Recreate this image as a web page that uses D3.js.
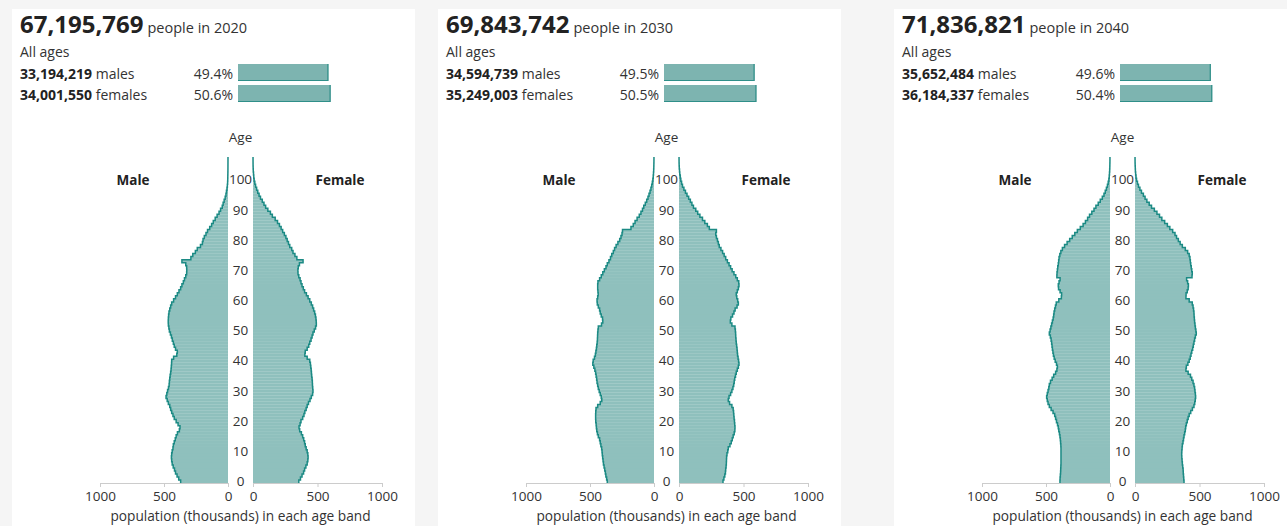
<!DOCTYPE html>
<html><head><meta charset="utf-8">
<script src="https://cdn.jsdelivr.net/npm/d3@7"></script>
<style>
body{margin:0;background:#f5f5f5;}
svg{display:block;font-family:"Open Sans",sans-serif;}
</style>
</head><body>
<svg id="c" width="1287" height="526"></svg>
<script>
const years=[2020,2030,2040];
const totals=[67195769,69843742,71836821];
const maleTotals=[33194219,34594739,35652484];
const femaleTotals=[34001550,35249003,36184337];
const malePct=[49.4,49.5,49.6];
const femalePct=[50.6,50.5,50.4];
const ageTicks=[0,10,20,30,40,50,60,70,80,90,100];
const popTicks=[0,500,1000];
const ages=d3.range(0,108);

const male2020=[370,385,398,410,418,428,436,440,442,440,436,430,427,420,412,405,395,380,375,390,405,420,430,440,448,455,466,475,484,478,472,465,460,458,455,452,448,445,443,441,440,425,400,396,410,420,427,435,442,450,458,462,466,467,466,464,461,455,448,440,425,410,396,383,370,360,349,340,330,323,322,323,330,360,290,275,255,240,215,200,195,185,172,160,143,128,115,100,85,70,58,45,38,30,22,16,12,8,5,3,2,1.5,1,0.6,0.4,0.3,0.2,0.1];
const female2020=[355,368,380,392,400,410,420,425,427,425,420,412,405,400,393,385,375,362,357,365,372,385,395,402,412,420,430,442,452,462,465,463,461,460,458,455,453,451,448,445,440,420,402,405,420,432,440,450,458,465,475,485,491,490,488,484,478,470,462,452,440,427,414,400,390,380,372,365,355,349,348,351,360,388,340,325,310,300,285,275,265,255,243,230,218,205,190,172,150,135,115,98,85,72,58,47,37,28,20,14,9,6,4,2,1,0.5,0.3,0.2];
const male2030=[365,370,376,380,385,390,395,398,401,404,406,409,415,420,425,435,442,447,450,452,455,456,456,455,453,440,420,408,412,420,428,435,440,445,448,452,456,462,470,478,475,465,458,454,450,447,444,442,441,440,438,435,410,400,402,412,420,425,435,443,445,440,436,438,440,440,438,425,412,400,388,375,365,352,340,330,318,308,296,282,268,258,250,246,180,162,148,132,115,102,90,80,68,57,47,39,31,24,18,13,9,6,4,2.5,1.5,1,0.5,0.3];
const female2030=[341,348,355,360,362,365,367,368,369,372,378,382,395,405,413,420,428,433,434,432,430,427,425,423,420,410,392,382,388,400,410,418,424,428,432,438,444,452,460,465,462,458,454,452,450,447,444,442,440,439,437,434,410,398,402,415,426,435,450,460,455,448,444,452,460,465,463,452,440,426,412,400,388,375,362,350,338,325,312,305,298,290,285,290,235,220,200,182,162,145,130,112,100,88,75,62,50,38,27,20,14,10,6,4,2,1,0.5,0.3];
const male2040=[391,390,388,386,385,384,383,383,383,383,383,383,384,386,388,391,395,400,404,410,418,425,432,445,460,474,484,490,495,490,484,478,474,465,452,440,425,415,411,418,428,436,442,446,450,453,456,460,466,474,468,462,456,450,444,440,437,432,426,420,400,380,378,390,402,404,398,390,415,414,411,408,404,401,398,392,384,372,355,335,315,295,275,255,232,210,192,175,160,142,125,110,92,76,60,47,37,28,20,14,9,6,4,2.5,1.5,1,0.5,0.3];
const female2040=[380,378,376,374,373,370,367,365,363,362,363,365,367,372,376,380,385,390,393,398,405,412,420,432,445,457,463,467,470,468,465,462,457,450,440,430,412,395,398,410,420,428,434,440,447,452,457,462,468,475,472,468,465,462,460,458,457,454,450,444,420,395,396,405,412,414,408,400,442,444,440,436,432,429,426,420,408,390,367,350,336,322,310,292,270,251,230,208,190,170,150,128,110,92,78,65,50,38,27,19,12,8,5,3,2,1,0.5,0.3];

const maleSeries=[male2020,male2030,male2040];
const femaleSeries=[female2020,female2030,female2040];

const panelX=[12,438,894];
const fillC="#8fc0bd", lineC="#1b8a84", textC="#333";
const fmt=d3.format(",");
const svg=d3.select("#c");

const y=d3.scaleLinear().domain([-1,107]).range([483,157]);
const xM=d3.scaleLinear().domain([0,1000]).range([216,88]);
const xF=d3.scaleLinear().domain([0,1000]).range([241,370]);
const xBar=d3.scaleLinear().domain([0,100]).range([0,183]);

years.forEach((yr,i)=>{
  const g=svg.append("g").attr("transform",`translate(${panelX[i]},0)`);
  g.append("rect").attr("x",0).attr("y",9).attr("width",403).attr("height",517).attr("fill","#fff");

  // header
  const t=g.append("text").attr("x",8).attr("y",33).attr("fill","#222");
  t.append("tspan").attr("font-size",24).attr("font-weight",700).text(fmt(totals[i]));
  t.append("tspan").attr("font-size",14.5).attr("fill",textC).attr("dx",4).text(`people in ${yr}`);
  g.append("text").attr("x",8).attr("y",57).attr("font-size",14).attr("fill",textC).text("All ages");

  const rows=[{n:maleTotals[i],lab:" males",p:malePct[i],yy:79},{n:femaleTotals[i],lab:" females",p:femalePct[i],yy:100}];
  rows.forEach(r=>{
    const tt=g.append("text").attr("x",8).attr("y",r.yy).attr("font-size",14).attr("fill",textC);
    tt.append("tspan").attr("font-weight",700).attr("fill","#222").text(fmt(r.n));
    tt.append("tspan").text(r.lab);
    g.append("text").attr("x",221).attr("y",r.yy).attr("text-anchor","end").attr("font-size",14).attr("fill",textC).text(r.p.toFixed(1)+"%");
    const by=r.yy-15, bw=xBar(r.p);
    g.append("rect").attr("x",226).attr("y",by).attr("width",bw).attr("height",17).attr("fill","#7db4b0");
    g.append("path").attr("d",`M226,${by+16.5}H${226+bw-0.5}V${by}`).attr("fill","none").attr("stroke","#2f8f89").attr("stroke-width",1.2);
  });

  // bars
  const drawSide=(data,xs)=>{
    g.append("g").selectAll("rect").data(ages).join("rect")
      .attr("x",a=>Math.min(xs(0),xs(data[a])))
      .attr("width",a=>Math.abs(xs(data[a])-xs(0)))
      .attr("y",a=>y(a))
      .attr("height",a=>y(a-1)-y(a)+0.2)
      .attr("fill",fillC);
    const pts=[];
    ages.forEach(a=>{pts.push([xs(data[a]),y(a-1)]);pts.push([xs(data[a]),y(a)]);});
    g.append("path").attr("d",d3.line()(pts)).attr("fill","none").attr("stroke",lineC).attr("stroke-width",1.5);
  };
  drawSide(maleSeries[i],xM);
  drawSide(femaleSeries[i],xF);

  // axes
  const mk=s=>d3.axisBottom(s).tickValues(popTicks).tickFormat(d3.format("d")).tickSize(4).tickPadding(4).tickSizeOuter(0);
  const axM=g.append("g").attr("transform","translate(0,483)").call(mk(xM));
  const axF=g.append("g").attr("transform","translate(0,483)").call(mk(xF));
  [axM,axF].forEach(ax=>{
    ax.select(".domain").attr("stroke","#ccc");
    ax.selectAll(".tick line").attr("stroke","#ccc");
    ax.selectAll(".tick text").attr("font-size",13.5).attr("fill",textC).attr("font-family","Open Sans");
  });
  g.append("text").attr("x",228.5).attr("y",521).attr("text-anchor","middle").attr("font-size",13.7).attr("fill",textC).text("population (thousands) in each age band");

  // age labels
  g.append("g").selectAll("text").data(ageTicks).join("text")
    .attr("x",228.5).attr("y",a=>y(a-0.5)).attr("dy","0.35em").attr("text-anchor","middle")
    .attr("font-size",13.5).attr("fill",textC).text(a=>a);
  g.append("text").attr("x",228.5).attr("y",142).attr("text-anchor","middle").attr("font-size",13.5).attr("fill",textC).text("Age");
  g.append("text").attr("x",121).attr("y",185).attr("text-anchor","middle").attr("font-size",13.5).attr("font-weight",700).attr("fill","#222").text("Male");
  g.append("text").attr("x",328).attr("y",185).attr("text-anchor","middle").attr("font-size",13.5).attr("font-weight",700).attr("fill","#222").text("Female");
});
</script>
</body></html>
